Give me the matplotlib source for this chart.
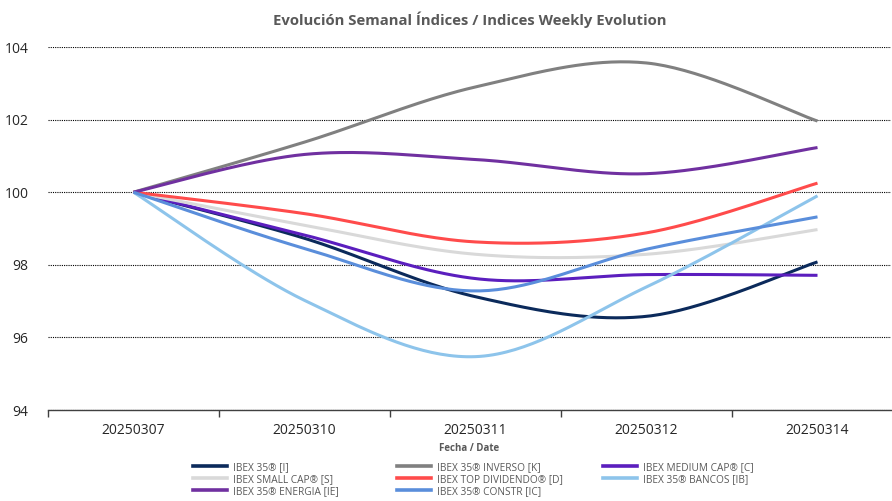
import numpy as np
import matplotlib
matplotlib.use("Agg")
import matplotlib.pyplot as plt
from matplotlib.lines import Line2D

plt.rcParams['font.family'] = ['Open Sans', 'DejaVu Sans']

dates = ["20250307", "20250310", "20250311", "20250312", "20250314"]

ibex35 = [100, 98.73, 97.12, 96.58, 98.08]
inverso = [100, 101.38, 102.90, 103.56, 101.96]
medium_cap = [100, 98.82, 97.62, 97.73, 97.71]
small_cap = [100, 99.09, 98.29, 98.29, 98.97]
top_div = [100, 99.41, 98.63, 98.88, 100.25]
bancos = [100, 97.02, 95.47, 97.39, 99.90]
energia = [100, 101.04, 100.90, 100.51, 101.23]
constr = [100, 98.45, 97.28, 98.43, 99.32]

series = [
    ("IBEX 35® [I]", ibex35, "#0B2A5B"),
    ("IBEX 35® INVERSO [K]", inverso, "#808080"),
    ("IBEX MEDIUM CAP® [C]", medium_cap, "#5B1EBE"),
    ("IBEX SMALL CAP® [S]", small_cap, "#D9D9D9"),
    ("IBEX TOP DIVIDENDO® [D]", top_div, "#FF4B4B"),
    ("IBEX 35® BANCOS [IB]", bancos, "#8DC4EB"),
    ("IBEX 35® ENERGIA [IE]", energia, "#7030A0"),
    ("IBEX 35® CONSTR [IC]", constr, "#5A8EDB"),
]


def smooth(y, n=40):
    y = np.asarray(y, float)
    x = np.arange(len(y), dtype=float)
    P = np.column_stack([x, y])
    Pe = np.vstack([P[0], P, P[-1]])
    xs, ys = [], []
    t = np.linspace(0, 1, n)[:, None]
    for i in range(len(P) - 1):
        p0 = P[i]
        p3 = P[i + 1]
        c1 = p0 + (Pe[i + 2] - Pe[i]) / 6.0
        c2 = p3 - (Pe[i + 3] - Pe[i + 1]) / 6.0
        B = ((1 - t) ** 3) * p0 + 3 * ((1 - t) ** 2) * t * c1 + 3 * (1 - t) * t ** 2 * c2 + t ** 3 * p3
        xs.append(B[:, 0]); ys.append(B[:, 1])
    return np.concatenate(xs), np.concatenate(ys)


W, H = 892, 501
fig = plt.figure(figsize=(W / 100, H / 100), dpi=100)
left, right, top, bottom = 48, 891, 47, 410
ax = fig.add_axes([left / W, (H - bottom) / H, (right - left) / W, (bottom - top) / H])

handles = {}
for name, vals, col in series:
    xs, ys = smooth(vals)
    ln, = ax.plot(xs, ys, color=col, lw=2.2, solid_capstyle='butt', label=name, zorder=3)
    handles[name] = ln

ax.set_xlim(-0.5, (right - left) / 171 - 0.5)
ax.set_ylim(94, 104)
ax.set_yticks([94, 96, 98, 100, 102, 104])
ax.set_xticks(range(len(dates)))
ax.set_xticklabels(dates)
ax.set_xticks([-0.5, 0.5, 1.5, 2.5, 3.5], minor=True)
ax.tick_params(axis='x', which='major', length=0, labelsize=10, pad=9)
ax.tick_params(axis='x', which='minor', length=5, color='#404040', width=1)
ax.tick_params(axis='y', length=0, labelsize=10, pad=14)
for lab in ax.get_yticklabels() + ax.get_xticklabels():
    lab.set_color('#262626')

ax.grid(axis='y', linestyle=(0, (1, 1)), color='#000000', linewidth=0.8, zorder=0)
ax.grid(axis='x', visible=False)
for s in ['left', 'right', 'top']:
    ax.spines[s].set_visible(False)
ax.spines['bottom'].set_color('#404040')
ax.spines['bottom'].set_linewidth(1.0)

ax.set_title("Evolución Semanal Índices / Indices Weekly Evolution", fontsize=10.7,
             fontweight='bold', color='#595959', pad=16)
ax.set_xlabel("Fecha / Date", fontsize=7, fontweight='bold', color='#595959', labelpad=4)

columns = [
    (193, ["IBEX 35® [I]", "IBEX SMALL CAP® [S]", "IBEX 35® ENERGIA [IE]"]),
    (397, ["IBEX 35® INVERSO [K]", "IBEX TOP DIVIDENDO® [D]", "IBEX 35® CONSTR [IC]"]),
    (603, ["IBEX MEDIUM CAP® [C]", "IBEX 35® BANCOS [IB]"]),
]
for x0, names in columns:
    hs = [Line2D([], [], color=handles[n].get_color(), lw=2.6) for n in names]
    leg = fig.legend(hs, names, ncol=1, loc='upper left', bbox_to_anchor=(x0 / W, 1 - 462 / H),
                     frameon=False, fontsize=7.3, handlelength=3.4, handletextpad=0.5,
                     labelspacing=0.1, borderpad=0, borderaxespad=0)
    for t in leg.get_texts():
        t.set_color('#595959')

fig.savefig("out.png", dpi=100)
